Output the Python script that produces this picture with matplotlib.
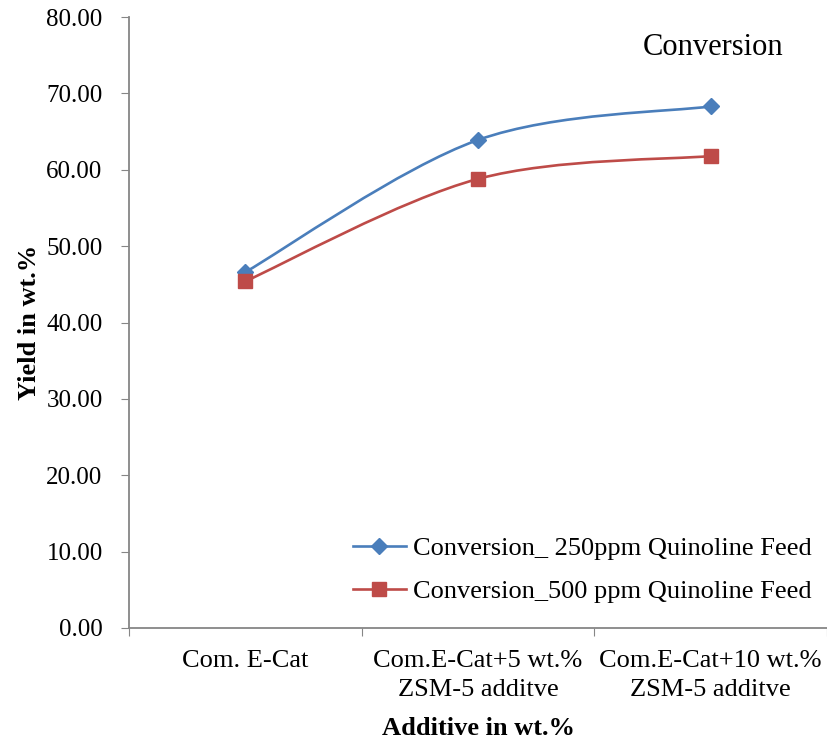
import matplotlib
matplotlib.use("Agg")
import matplotlib.pyplot as plt
from matplotlib.path import Path
from matplotlib.patches import PathPatch
from matplotlib.lines import Line2D
import numpy as np

plt.rcParams['font.family'] = ['Liberation Serif', 'DejaVu Serif']

categories = ["Com. E-Cat", "Com.E-Cat+5 wt.%\nZSM-5 additve", "Com.E-Cat+10 wt.%\nZSM-5 additve"]
conv_250 = [46.6, 63.9, 68.3]
conv_500 = [45.4, 58.8, 61.8]
yticks = [0, 10, 20, 30, 40, 50, 60, 70, 80]

fig = plt.figure(figsize=(8.27, 7.42), dpi=100)
ax = fig.add_axes([129/827, 1-628/742, (827-129)/827, (628-17)/742])

xs = np.arange(len(categories)) + 0.5

def smooth_path(x, y):
    pts = list(zip(x, y))
    n = len(pts)
    verts = [pts[0]]
    codes = [Path.MOVETO]
    for i in range(n - 1):
        p0 = np.array(pts[i - 1] if i > 0 else pts[i])
        p1 = np.array(pts[i])
        p2 = np.array(pts[i + 1])
        p3 = np.array(pts[i + 2] if i + 2 < n else pts[i + 1])
        c1 = p1 + (p2 - p0) / 6
        c2 = p2 - (p3 - p1) / 6
        verts += [tuple(c1), tuple(c2), tuple(p2)]
        codes += [Path.CURVE4] * 3
    return Path(verts, codes)

series = [
    (conv_250, "#4a7ebb", "D", 8.5, "Conversion_ 250ppm Quinoline Feed"),
    (conv_500, "#be4b48", "s", 9.5, "Conversion_500 ppm Quinoline Feed"),
]
handles = []
for vals, col, mk, ms, lab in series:
    ax.add_patch(PathPatch(smooth_path(xs, vals), facecolor="none", edgecolor=col, lw=1.9))
    ax.plot(xs, vals, linestyle="none", marker=mk, color=col, markersize=ms)
    handles.append(Line2D([], [], color=col, lw=1.9, marker=mk, markersize=ms, label=lab))

ax.set_xlim(0, 3)
ax.set_ylim(0, 80)
ax.set_yticks(yticks)
ax.set_yticklabels([f"{v:.2f}" for v in yticks])
ax.set_xticks([0, 1, 2, 3])
ax.set_xticklabels([])
ax.set_xticks(xs, minor=True)
ax.set_xticklabels(categories, minor=True, fontsize=19, linespacing=1.38)
ax.tick_params(axis="x", which="minor", length=0, pad=16)
ax.tick_params(axis="x", which="major", length=6, direction="out", color="#868686")
ax.tick_params(axis="y", length=6, direction="out", color="#868686", labelsize=18, pad=13)

for s in ["top", "right"]:
    ax.spines[s].set_visible(False)
for s in ["left", "bottom"]:
    ax.spines[s].set_color("#868686")
    ax.spines[s].set_linewidth(1.3)

ax.set_ylabel("Yield in wt.%", fontsize=19, fontweight="bold", labelpad=4)
ax.set_xlabel("Additive in wt.%", fontsize=19, fontweight="bold", labelpad=12)

ax.text(2.51, 76.0, "Conversion", fontsize=22, ha="center", va="center")

ax.legend(handles=handles, loc="center left", bbox_to_anchor=(0.321, 0.095), frameon=False,
          fontsize=19, handlelength=2.0, handletextpad=0.27, labelspacing=0.72,
          borderpad=0, borderaxespad=0)

fig.savefig("out.png", dpi=100)
